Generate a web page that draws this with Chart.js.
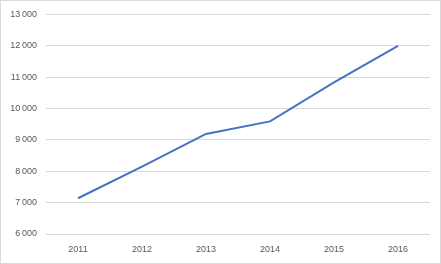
<!DOCTYPE html>
<html>
<head>
<meta charset="utf-8">
<script src="https://cdn.jsdelivr.net/npm/chart.js@4"></script>
<style>
html,body{margin:0;padding:0;background:#fff;}
#wrap{position:relative;width:441px;height:264px;}
</style>
</head>
<body>
<div id="wrap"><canvas id="c" width="441" height="264"></canvas></div>
<script>
const categories = ['2011','2012','2013','2014','2015','2016'];
const values = [7140, 8150, 9190, 9590, 10830, 12000];
const yMin = 6000, yMax = 13000, yStep = 1000;

const borderPlugin = {
  id: 'outerBorder',
  beforeDraw(chart) {
    const ctx = chart.ctx;
    ctx.save();
    ctx.fillStyle = '#fff';
    ctx.fillRect(0, 0, chart.width, chart.height);
    ctx.strokeStyle = '#d9d9d9';
    ctx.lineWidth = 1;
    ctx.strokeRect(0.5, 0.5, chart.width - 1, chart.height - 1);
    ctx.restore();
  }
};

new Chart(document.getElementById('c'), {
  type: 'line',
  data: {
    labels: categories,
    datasets: [{
      data: values,
      borderColor: '#4472C4',
      borderWidth: 2,
      pointRadius: 0,
      tension: 0,
      fill: false
    }]
  },
  options: {
    responsive: false,
    animation: false,
    layout: { padding: { left: 0, right: 11, top: 11, bottom: 0 } },
    plugins: { legend: { display: false }, tooltip: { enabled: false } },
    scales: {
      x: {
        offset: true,
        grid: { display: false, drawTicks: false },
        border: { display: false },
        ticks: { color: '#595959', font: { family: 'Liberation Sans', size: 9 }, padding: 10, maxRotation: 0 },
        afterFit(s) { s.height = 30; }
      },
      y: {
        min: yMin, max: yMax,
        grid: { color: '#d9d9d9', drawTicks: false },
        border: { display: false },
        ticks: {
          stepSize: yStep,
          color: '#595959',
          font: { family: 'Liberation Sans', size: 9 },
          padding: 9,
          callback: v => {
            const s = String(v);
            return s.length > 3 ? s.slice(0, s.length - 3) + '\u2009' + s.slice(-3) : s;
          }
        },
        afterFit(s) { s.width = 46; }
      }
    }
  },
  plugins: [borderPlugin]
});
</script>
</body>
</html>
